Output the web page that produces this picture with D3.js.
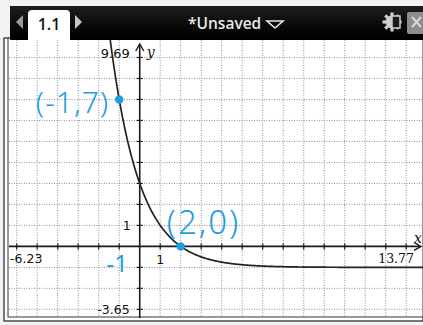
<!DOCTYPE html>
<html>
<head>
<meta charset="utf-8">
<script src="https://cdn.jsdelivr.net/npm/d3@7"></script>
<style>
  html, body { margin: 0; padding: 0; background: #f4f4f4; }
  svg { display: block; }
</style>
</head>
<body>
<svg id="chart" width="423" height="325"></svg>
<script>
// Graph window settings
const xWindow = [-6.23, 13.77];
const yWindow = [-3.65, 9.69];
const xWindowLabels = ["-6.23", "13.77"];
const yWindowLabels = ["9.69", "-3.65"];
const unitTicks = [1];

// f(x) = 4·(1/2)^x − 1
const fnCoef = [4, 0.5, -1];
const sampleX = d3.range(-1.5, 14.01, 0.05);

// Marked points with handwritten notes
const markedX = [-1, 2];
const markedY = [7, 0];
const markedNotes = ["(-1,7)", "(2,0)"];
const extraNote = ["-1"];

const svg = d3.select("#chart");
const W = 423, H = 325;

const plot = { left: 12, right: 422, top: 43, bottom: 323, clipBottom: 318 };
const x = d3.scaleLinear().domain(xWindow).range([plot.left, plot.right]);
const y = d3.scaleLinear().domain(yWindow).range([plot.bottom, plot.top]);

// page background and frame
svg.append("rect").attr("width", W).attr("height", H).attr("fill", "#f3f3f3");
svg.append("rect").attr("x", 4).attr("y", 38).attr("width", W - 4).attr("height", 283)
  .attr("fill", "#fff").attr("stroke", "#222").attr("stroke-width", 1.2);
svg.append("rect").attr("x", 8).attr("y", 38).attr("width", W - 8).attr("height", 279)
  .attr("fill", "#fff").attr("stroke", "#333").attr("stroke-width", 1);

const defs = svg.append("defs");
defs.append("clipPath").attr("id", "plotClip")
  .append("rect").attr("x", 9).attr("y", 40).attr("width", W - 9).attr("height", plot.clipBottom - 40);

const g = svg.append("g").attr("clip-path", "url(#plotClip)");

// dotted grid at each unit
const gx = d3.range(Math.ceil(xWindow[0]), Math.floor(xWindow[1]) + 1);
const gy = d3.range(Math.ceil(yWindow[0]), Math.floor(yWindow[1]) + 1);
g.selectAll("line.gv").data(gx.filter(d => d !== 0)).join("line")
  .attr("x1", d => x(d)).attr("x2", d => x(d))
  .attr("y1", 40).attr("y2", plot.clipBottom)
  .attr("stroke", "#939393").attr("stroke-width", 1).attr("stroke-dasharray", "1,1.5");
g.selectAll("line.gh").data(gy.filter(d => d !== 0)).join("line")
  .attr("x1", 9).attr("x2", W)
  .attr("y1", d => y(d)).attr("y2", d => y(d))
  .attr("stroke", "#939393").attr("stroke-width", 1).attr("stroke-dasharray", "1,1.5");

// axes
g.append("line").attr("x1", 9).attr("x2", x(xWindow[1]) - 2)
  .attr("y1", y(0)).attr("y2", y(0)).attr("stroke", "#1a1a1a").attr("stroke-width", 1.6);
g.append("line").attr("x1", x(0)).attr("x2", x(0))
  .attr("y1", y(yWindow[1]) + 2).attr("y2", plot.clipBottom).attr("stroke", "#1a1a1a").attr("stroke-width", 1.6);

// tick marks
g.selectAll("line.tx").data(gx.filter(d => d !== 0)).join("line")
  .attr("x1", d => x(d)).attr("x2", d => x(d))
  .attr("y1", y(0) - 3).attr("y2", y(0) + 3).attr("stroke", "#1a1a1a").attr("stroke-width", 1.2);
g.selectAll("line.ty").data(gy.filter(d => d !== 0)).join("line")
  .attr("x1", x(0) - 3).attr("x2", x(0) + 3)
  .attr("y1", d => y(d)).attr("y2", d => y(d)).attr("stroke", "#1a1a1a").attr("stroke-width", 1.2);

// axis arrows
g.append("path")
  .attr("d", `M${x(0) - 4},${y(yWindow[1]) + 8} L${x(0)},${y(yWindow[1]) + 1} L${x(0) + 4},${y(yWindow[1]) + 8}`)
  .attr("fill", "none").attr("stroke", "#1a1a1a").attr("stroke-width", 1.4);
g.append("path")
  .attr("d", `M${x(xWindow[1]) - 8},${y(0) - 4} L${x(xWindow[1]) - 1},${y(0)} L${x(xWindow[1]) - 8},${y(0) + 4}`)
  .attr("fill", "none").attr("stroke", "#1a1a1a").attr("stroke-width", 1.4);

// function curve
const f = xv => fnCoef[0] * Math.pow(fnCoef[1], xv) + fnCoef[2];
const line = d3.line().x(d => x(d)).y(d => y(f(d))).curve(d3.curveMonotoneX);
g.append("path").datum(sampleX).attr("d", line)
  .attr("fill", "none").attr("stroke", "#222").attr("stroke-width", 1.7);

// window labels
const labelFont = "'DejaVu Sans', sans-serif";
svg.append("text").attr("x", x(0) - 10).attr("y", y(yWindow[1]) + 15)
  .attr("text-anchor", "end").attr("font-family", labelFont).attr("font-size", 13)
  .attr("fill", "#111").text(yWindowLabels[0]);
svg.append("text").attr("x", x(0) + 7).attr("y", y(yWindow[1]) + 14)
  .attr("font-family", "'DejaVu Serif', serif").attr("font-style", "italic").attr("font-size", 14)
  .attr("fill", "#111").text("y");
svg.append("text").attr("x", x(0) - 10).attr("y", y(-3) + 5)
  .attr("text-anchor", "end").attr("font-family", labelFont).attr("font-size", 12.5)
  .attr("fill", "#111").text(yWindowLabels[1]);
svg.append("text").attr("x", x(xWindow[0]) - 2).attr("y", y(0) + 17)
  .attr("font-family", labelFont).attr("font-size", 12.5)
  .attr("fill", "#111").text(xWindowLabels[0]);
svg.append("text").attr("x", x(xWindow[1]) - 8).attr("y", y(0) + 17)
  .attr("text-anchor", "end").attr("font-family", "'DejaVu Serif', serif").attr("font-size", 12.5)
  .attr("fill", "#111").text(xWindowLabels[1]);
svg.append("text").attr("x", x(xWindow[1]) - 8).attr("y", y(0) - 3)
  .attr("font-family", "'DejaVu Serif', serif").attr("font-style", "italic").attr("font-size", 14)
  .attr("fill", "#111").text("x");

// unit labels
svg.selectAll("text.ux").data(unitTicks).join("text")
  .attr("x", d => x(d)).attr("y", y(0) + 18).attr("text-anchor", "middle")
  .attr("font-family", labelFont).attr("font-size", 12.5).attr("fill", "#111").text(d => d);
svg.selectAll("text.uy").data(unitTicks).join("text")
  .attr("x", x(0) - 9).attr("y", d => y(d) + 5).attr("text-anchor", "end")
  .attr("font-family", labelFont).attr("font-size", 12.5).attr("fill", "#111").text(d => d);

// handwritten marks in blue
const ink = "#1b9ee0";
svg.selectAll("circle.pt").data(markedX).join("circle")
  .attr("cx", d => x(d)).attr("cy", (d, i) => y(markedY[i])).attr("r", 4.2).attr("fill", ink);
const noteFont = "'Noto Sans', sans-serif";
svg.append("text").attr("x", x(markedX[0]) - 10).attr("y", y(markedY[0]) + 14)
  .attr("text-anchor", "end").attr("font-family", noteFont).attr("font-weight", 300)
  .attr("font-size", 30).attr("fill", ink).attr("letter-spacing", 1).text(markedNotes[0]);
svg.append("text").attr("x", x(markedX[1]) - 14).attr("y", y(markedY[1]) - 12)
  .attr("font-family", noteFont).attr("font-weight", 300)
  .attr("font-size", 33).attr("fill", ink).attr("letter-spacing", 2).text(markedNotes[1]);
svg.append("text").attr("x", x(markedX[0]) - 2).attr("y", y(0) + 26).attr("text-anchor", "middle")
  .attr("font-family", noteFont).attr("font-weight", 400)
  .attr("font-size", 24).attr("fill", ink).text(extraNote[0]);

// document title bar
const grad = defs.append("linearGradient").attr("id", "barGrad").attr("x1", 0).attr("y1", 0).attr("x2", 0).attr("y2", 1);
grad.append("stop").attr("offset", "0%").attr("stop-color", "#1e1e1e");
grad.append("stop").attr("offset", "55%").attr("stop-color", "#0a0a0a");
grad.append("stop").attr("offset", "100%").attr("stop-color", "#000");
svg.append("rect").attr("x", 10).attr("y", 6).attr("width", W - 10).attr("height", 34).attr("fill", "url(#barGrad)");
svg.append("path").attr("d", "M28,40 L28,14 Q28,10 32,10 L66,10 Q70,10 70,14 L70,40 Z")
  .attr("fill", "#fff");
svg.append("text").attr("x", 49).attr("y", 30).attr("text-anchor", "middle")
  .attr("font-family", "'Open Sans', sans-serif").attr("font-weight", 600).attr("font-size", 16)
  .attr("fill", "#111").text("1.1");
svg.append("path").attr("d", "M23,15 L16,22 L23,29 Z").attr("fill", "#9a9a9a");
svg.append("path").attr("d", "M75,15 L82,22 L75,29 Z").attr("fill", "#c8c8c8");
svg.append("text").attr("x", 188).attr("y", 29)
  .attr("font-family", "'Open Sans', sans-serif").attr("font-weight", 600).attr("font-size", 15.5)
  .attr("fill", "#e8e8e8").text("*Unsaved");
svg.append("path").attr("d", "M267,21 L283,21 L275,28 Z").attr("fill", "none")
  .attr("stroke", "#e8e8e8").attr("stroke-width", 1.6);
// settings gear and close box
const gear = svg.append("g").attr("transform", "translate(392,22)");
gear.append("circle").attr("r", 6.5).attr("fill", "#cfcfcf");
gear.selectAll("rect").data(d3.range(8)).join("rect")
  .attr("x", -1.6).attr("y", -9.5).attr("width", 3.2).attr("height", 4)
  .attr("transform", d => `rotate(${d * 45})`).attr("fill", "#cfcfcf");
gear.append("rect").attr("x", 0).attr("y", -6).attr("width", 8).attr("height", 12).attr("fill", "#1a1a1a")
  .attr("stroke", "#cfcfcf").attr("stroke-width", 1.5);
svg.append("rect").attr("x", 407).attr("y", 12).attr("width", 18).attr("height", 22).attr("rx", 2).attr("fill", "#8d8d8d");
svg.append("path").attr("d", "M412,17 L421,27 M421,17 L412,27").attr("stroke", "#d8d8d8").attr("stroke-width", 2);
</script>
</body>
</html>
